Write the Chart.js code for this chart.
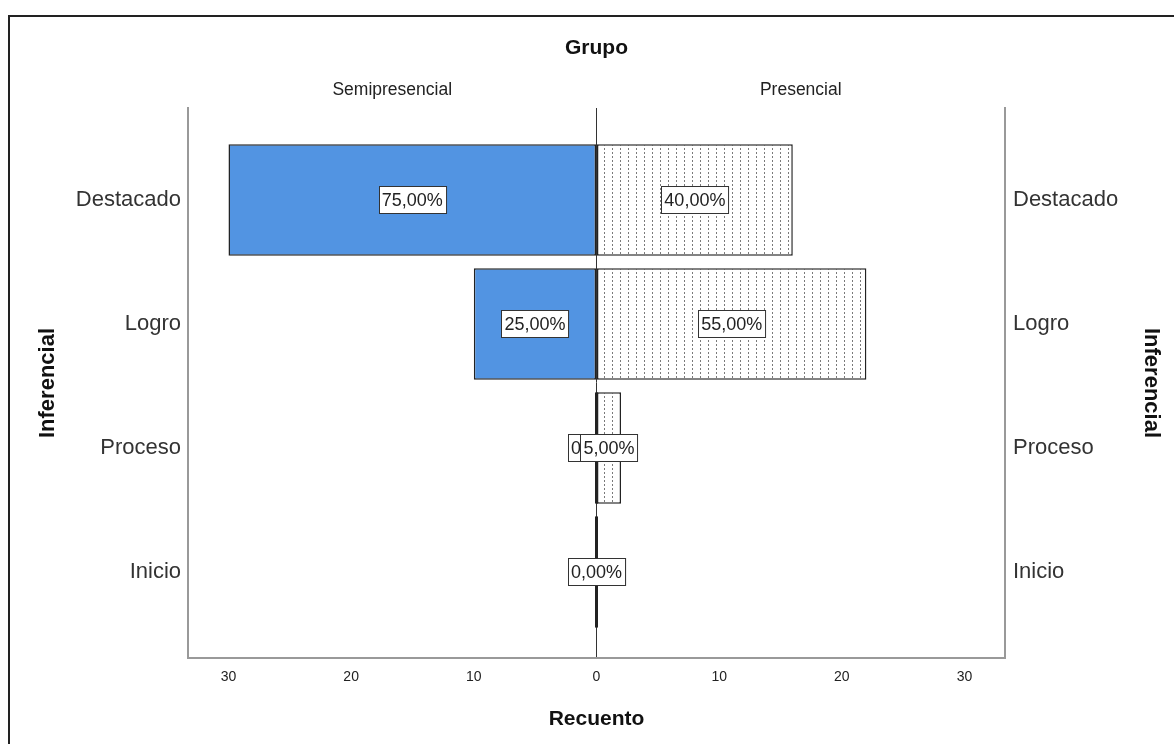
<!DOCTYPE html>
<html>
<head>
    <title>Inferencial por Grupo</title>
    <script src="https://cdn.jsdelivr.net/npm/chart.js"></script>
    <style>
        body {
            margin: 0;
            background: #fff;
        }

        #frame {
            position: absolute;
            left: 8px;
            top: 15px;
            width: 1300px;
            height: 900px;
            border-left: 2px solid #222;
            border-top: 2px solid #222;
        }

        #wrap {
            position: absolute;
            left: 0;
            top: 0;
            width: 1174px;
            height: 744px;
        }
    </style>
</head>
<body>
    <div id="frame"></div>
    <div id="wrap">
        <canvas id="pyramid" width="1174" height="744"></canvas>
    </div>
    <script>
        const categories = ['Destacado', 'Logro', 'Proceso', 'Inicio'];
        const groups = ['Semipresencial', 'Presencial'];
        const semiCount = [30, 10, 0, 0];
        const presCount = [16, 22, 2, 0];
        const semiPct = [75, 25, 0, 0];
        const presPct = [40, 55, 5, 0];
        const xTicks = [-30, -20, -10, 0, 10, 20, 30];

        const FONT = '"Liberation Sans", Arial, sans-serif';
        const xLimit = 33.3;
        const yMin = -0.742, yMax = 3.694;

        // dotted fill like the SPSS pattern
        function dotPattern() {
            const c = document.createElement('canvas');
            c.width = 8; c.height = 4;
            const g = c.getContext('2d');
            g.fillStyle = '#fff';
            g.fillRect(0, 0, 8, 4);
            g.fillStyle = '#7a7a7a';
            g.fillRect(4, 0, 1, 2);
            return g.createPattern(c, 'repeat');
        }

        function fmt(v) {
            return v.toFixed(2).replace('.', ',') + '%';
        }

        const labelBoxes = {
            id: 'labelBoxes',
            afterDatasetsDraw(chart) {
                const ctx = chart.ctx;
                const pcts = [semiPct, presPct];
                ctx.save();
                ctx.font = '18px ' + FONT;
                ctx.textAlign = 'center';
                ctx.textBaseline = 'middle';
                chart.data.datasets.forEach((ds, di) => {
                    chart.getDatasetMeta(di).data.forEach((bar, i) => {
                        const c = bar.getCenterPoint();
                        const txt = fmt(pcts[di][i]);
                        const w = ctx.measureText(txt).width + 6;
                        const h = 27;
                        const x = Math.round(c.x - w / 2) + 0.5;
                        const y = Math.round(c.y - h / 2) + 0.5;
                        ctx.fillStyle = '#fff';
                        ctx.fillRect(x, y, w, h);
                        ctx.strokeStyle = '#333';
                        ctx.lineWidth = 1;
                        ctx.strokeRect(x, y, w, h);
                        ctx.fillStyle = '#222';
                        ctx.fillText(txt, c.x, c.y + 1);
                    });
                });
                ctx.restore();
            }
        };

        const catTicks = scale => { scale.ticks = categories.map((c, i) => ({ value: i })); };

        const ctx = document.getElementById('pyramid').getContext('2d');
        new Chart(ctx, {
            type: 'bar',
            data: {
                datasets: [{
                    label: groups[0],
                    data: semiCount.map((v, i) => ({ x: -v, y: i })),
                    backgroundColor: '#5294e2',
                    borderColor: '#222',
                    borderWidth: 1.5,
                    borderSkipped: false,
                    minBarLength: 3,
                    grouped: false
                }, {
                    label: groups[1],
                    data: presCount.map((v, i) => ({ x: v, y: i })),
                    backgroundColor: dotPattern(),
                    borderColor: '#222',
                    borderWidth: 1.5,
                    borderSkipped: false,
                    grouped: false
                }]
            },
            options: {
                indexAxis: 'y',
                responsive: false,
                animation: false,
                devicePixelRatio: 1,
                categoryPercentage: 1,
                barPercentage: 0.9,
                layout: { padding: 0 },
                plugins: {
                    legend: { display: false },
                    tooltip: { enabled: false }
                },
                scales: {
                    x: {
                        type: 'linear',
                        position: 'bottom',
                        min: -xLimit,
                        max: xLimit,
                        afterBuildTicks: s => { s.ticks = xTicks.map(v => ({ value: v })); },
                        afterFit: s => { s.height = 86; },
                        ticks: {
                            callback: v => Math.abs(v),
                            font: { family: FONT, size: 14 },
                            color: '#222',
                            padding: 11,
                            maxRotation: 0
                        },
                        grid: {
                            drawTicks: false,
                            color: c => (c.tick && c.tick.value === 0) ? '#333' : 'rgba(0,0,0,0)',
                            lineWidth: 1
                        },
                        border: { display: true, color: '#999', width: 2 },
                        title: {
                            display: true,
                            text: 'Recuento',
                            font: { family: FONT, size: 21, weight: 'bold' },
                            color: '#111',
                            padding: { top: 0, bottom: 12 }
                        }
                    },
                    x2: {
                        type: 'linear',
                        position: 'top',
                        min: -xLimit,
                        max: xLimit,
                        afterBuildTicks: s => { s.ticks = [{ value: -xLimit / 2 }, { value: xLimit / 2 }]; },
                        afterFit: s => { s.height = 108; },
                        ticks: {
                            callback: (v, i) => groups[i],
                            font: { family: FONT, size: 17.5 },
                            color: '#222',
                            padding: 7,
                            maxRotation: 0
                        },
                        grid: { display: false, drawTicks: false },
                        border: { display: false },
                        title: {
                            display: true,
                            text: 'Grupo',
                            font: { family: FONT, size: 21, weight: 'bold' },
                            color: '#111',
                            padding: { top: 36, bottom: 0 }
                        }
                    },
                    y: {
                        type: 'linear',
                        position: 'left',
                        reverse: true,
                        offset: false,
                        min: yMin,
                        max: yMax,
                        afterBuildTicks: catTicks,
                        afterFit: s => { s.width = 188; },
                        ticks: {
                            callback: v => categories[v],
                            font: { family: FONT, size: 22 },
                            color: '#333',
                            padding: 7
                        },
                        grid: { display: false, drawTicks: false, offset: false },
                        border: { display: true, color: '#999', width: 2 },
                        title: {
                            display: true,
                            text: 'Inferencial',
                            font: { family: FONT, size: 22, weight: 'bold' },
                            color: '#111',
                            padding: { top: 35, bottom: 0 }
                        }
                    },
                    y2: {
                        type: 'linear',
                        position: 'right',
                        reverse: true,
                        offset: false,
                        min: yMin,
                        max: yMax,
                        afterBuildTicks: catTicks,
                        afterFit: s => { s.width = 169; },
                        ticks: {
                            callback: v => categories[v],
                            font: { family: FONT, size: 22 },
                            color: '#333',
                            padding: 8
                        },
                        grid: { display: false, drawTicks: false },
                        border: { display: true, color: '#999', width: 2 },
                        title: {
                            display: true,
                            text: 'Inferencial',
                            font: { family: FONT, size: 22, weight: 'bold' },
                            color: '#111',
                            padding: { top: 10, bottom: 0 }
                        }
                    }
                }
            },
            plugins: [labelBoxes]
        });
    </script>
</body>
</html>
